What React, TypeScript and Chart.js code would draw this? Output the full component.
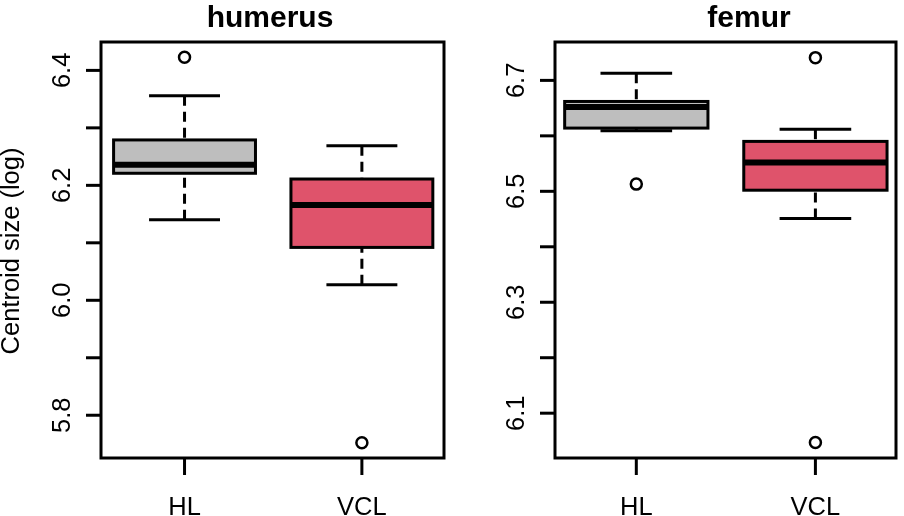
import React, { useEffect, useRef } from "react";
import { Chart, registerables } from "chart.js";

Chart.register(...registerables);

// ---------- data ----------
const groups = ["HL", "VCL"];
const fillColors = ["#BEBEBE", "#DF536B"];

const humerusWhiskerLow = [6.140, 6.027];
const humerusQ1 = [6.221, 6.092];
const humerusMedian = [6.236, 6.166];
const humerusQ3 = [6.279, 6.211];
const humerusWhiskerHigh = [6.356, 6.269];
const humerusOutliers = [[6.423], [5.752]];
const humerusTicks = [5.8, 5.9, 6.0, 6.1, 6.2, 6.3, 6.4];
const humerusTickLabels = ["5.8", "", "6.0", "", "6.2", "", "6.4"];

const femurWhiskerLow = [6.609, 6.451];
const femurQ1 = [6.614, 6.502];
const femurMedian = [6.652, 6.552];
const femurQ3 = [6.662, 6.590];
const femurWhiskerHigh = [6.713, 6.612];
const femurOutliers = [[6.513], [6.741, 6.047]];
const femurTicks = [6.1, 6.2, 6.3, 6.4, 6.5, 6.6, 6.7];
const femurTickLabels = ["6.1", "", "6.3", "", "6.5", "", "6.7"];

const yAxisTitle = "Centroid size (log)";

const FONT = "'Liberation Sans', Arial, Helvetica, sans-serif";

type PanelProps = {
  title: string;
  titleX: number;
  left: number;
  lowW: number[];
  q1: number[];
  med: number[];
  q3: number[];
  highW: number[];
  outliers: number[][];
  ticks: number[];
  tickLabels: string[];
  yMin: number;
  yMax: number;
  xMin: number;
  xMax: number;
  padLeft: number;
  padRight: number;
  showYTitle: boolean;
};

function BoxPanel(p: PanelProps) {
  const ref = useRef<HTMLCanvasElement>(null);

  useEffect(() => {
    const canvas = ref.current!;
    const line = (ctx: CanvasRenderingContext2D, x1: number, y1: number, x2: number, y2: number) => {
      ctx.beginPath();
      ctx.moveTo(x1, y1);
      ctx.lineTo(x2, y2);
      ctx.stroke();
    };

    const plugin = {
      id: "rboxplot",
      afterDatasetsDraw(chart: any) {
        const ctx: CanvasRenderingContext2D = chart.ctx;
        const xs = chart.scales.x;
        const ys = chart.scales.y;
        ctx.save();
        ctx.strokeStyle = "#000";
        ctx.lineCap = "butt";
        groups.forEach((_, i) => {
          const cx = xs.getPixelForValue(i + 1);
          const hw = xs.getPixelForValue(i + 1.4) - cx;
          const cw = hw / 2;
          const yLo = ys.getPixelForValue(p.lowW[i]);
          const yQ1 = ys.getPixelForValue(p.q1[i]);
          const yMed = ys.getPixelForValue(p.med[i]);
          const yQ3 = ys.getPixelForValue(p.q3[i]);
          const yHi = ys.getPixelForValue(p.highW[i]);
          ctx.lineWidth = 3;
          ctx.setLineDash([10, 6]);
          line(ctx, cx, yLo, cx, yQ1);
          line(ctx, cx, yHi, cx, yQ3);
          ctx.setLineDash([]);
          line(ctx, cx - cw, yLo, cx + cw, yLo);
          line(ctx, cx - cw, yHi, cx + cw, yHi);
          ctx.lineJoin = "miter";
          ctx.strokeRect(cx - hw, yQ3, 2 * hw, yQ1 - yQ3);
          ctx.lineWidth = 6;
          line(ctx, cx - hw, yMed, cx + hw, yMed);
        });
        ctx.restore();
      },
      afterDraw(chart: any) {
        const ctx: CanvasRenderingContext2D = chart.ctx;
        const xs = chart.scales.x;
        const ys = chart.scales.y;
        const a = chart.chartArea;
        ctx.save();
        ctx.strokeStyle = "#000";
        ctx.fillStyle = "#000";
        ctx.lineWidth = 3;
        ctx.lineJoin = "miter";
        ctx.strokeRect(a.left, a.top, a.right - a.left, a.bottom - a.top);

        // y ticks & labels
        ctx.font = `25.5px ${FONT}`;
        p.ticks.forEach((v, i) => {
          const y = ys.getPixelForValue(v);
          line(ctx, a.left - 15, y, a.left, y);
          const lab = p.tickLabels[i];
          if (lab) {
            ctx.save();
            ctx.translate(a.left - 31, y);
            ctx.rotate(-Math.PI / 2);
            ctx.textAlign = "center";
            ctx.textBaseline = "alphabetic";
            ctx.fillText(lab, 0, 0);
            ctx.restore();
          }
        });

        // x ticks & labels
        groups.forEach((g, i) => {
          const x = xs.getPixelForValue(i + 1);
          line(ctx, x, a.bottom, x, a.bottom + 17);
          ctx.textAlign = "center";
          ctx.textBaseline = "alphabetic";
          ctx.fillText(g, x, 515);
        });

        // title
        ctx.font = `bold 30px ${FONT}`;
        ctx.textAlign = "center";
        ctx.fillText(p.title, p.titleX, 27);

        // y axis title
        if (p.showYTitle) {
          ctx.font = `25.5px ${FONT}`;
          ctx.save();
          ctx.translate(19, (a.top + a.bottom) / 2 + 1);
          ctx.rotate(-Math.PI / 2);
          ctx.textAlign = "center";
          ctx.fillText(yAxisTitle, 0, 0);
          ctx.restore();
        }
        ctx.restore();
      },
    };

    const boxData = groups.map((_, i) => ({ x: i + 1, y: [p.q1[i], p.q3[i]] }));
    const outlierData: { x: number; y: number }[] = [];
    p.outliers.forEach((vals, i) => vals.forEach((v) => outlierData.push({ x: i + 1, y: v })));

    const chart = new Chart(canvas, {
      type: "bar",
      data: {
        datasets: [
          {
            type: "bar",
            data: boxData as any,
            backgroundColor: fillColors,
            borderWidth: 0,
            barPercentage: 0.8,
            categoryPercentage: 1,
          } as any,
          {
            type: "scatter",
            data: outlierData,
            pointStyle: "circle",
            pointRadius: 5.5,
            pointBorderWidth: 2.5,
            pointBorderColor: "#000",
            pointBackgroundColor: "rgba(0,0,0,0)",
            borderColor: "#000",
            backgroundColor: "rgba(0,0,0,0)",
            showLine: false,
            clip: false,
          } as any,
        ],
      },
      options: {
        responsive: false,
        maintainAspectRatio: false,
        animation: false,
        devicePixelRatio: 1,
        events: [],
        layout: { padding: { left: p.padLeft, right: p.padRight, top: 42, bottom: 58 } },
        plugins: {
          legend: { display: false },
          tooltip: { enabled: false },
          title: { display: false },
        },
        scales: {
          x: {
            type: "linear",
            min: p.xMin,
            max: p.xMax,
            offset: false,
            display: false,
            grid: { offset: false },
            afterBuildTicks: (s: any) => {
              s.ticks = groups.map((_, i) => ({ value: i + 1 }));
            },
          },
          y: {
            type: "linear",
            min: p.yMin,
            max: p.yMax,
            display: false,
          },
        },
      } as any,
      plugins: [plugin],
    });
    return () => chart.destroy();
  }, []);

  return (
    <canvas
      ref={ref}
      width={452}
      height={516}
      style={{ position: "absolute", left: p.left, top: 0, width: 452, height: 516 }}
    />
  );
}

export default function App() {
  return (
    <div style={{ position: "fixed", left: 0, top: 0, width: 904, height: 516, background: "#fff" }}>
      <BoxPanel
        title="humerus"
        titleX={270}
        left={0}
        lowW={humerusWhiskerLow}
        q1={humerusQ1}
        med={humerusMedian}
        q3={humerusQ3}
        highW={humerusWhiskerHigh}
        outliers={humerusOutliers}
        ticks={humerusTicks}
        tickLabels={humerusTickLabels}
        yMin={5.7256}
        yMax={6.4494}
        xMin={0.529}
        xMax={2.463}
        padLeft={101}
        padRight={3}
        showYTitle={true}
      />
      <BoxPanel
        title="femur"
        titleX={297}
        left={452}
        lowW={femurWhiskerLow}
        q1={femurQ1}
        med={femurMedian}
        q3={femurQ3}
        highW={femurWhiskerHigh}
        outliers={femurOutliers}
        ticks={femurTicks}
        tickLabels={femurTickLabels}
        yMin={6.0192}
        yMax={6.7692}
        xMin={0.546}
        xMax={2.45}
        padLeft={103}
        padRight={6.3}
        showYTitle={false}
      />
    </div>
  );
}
